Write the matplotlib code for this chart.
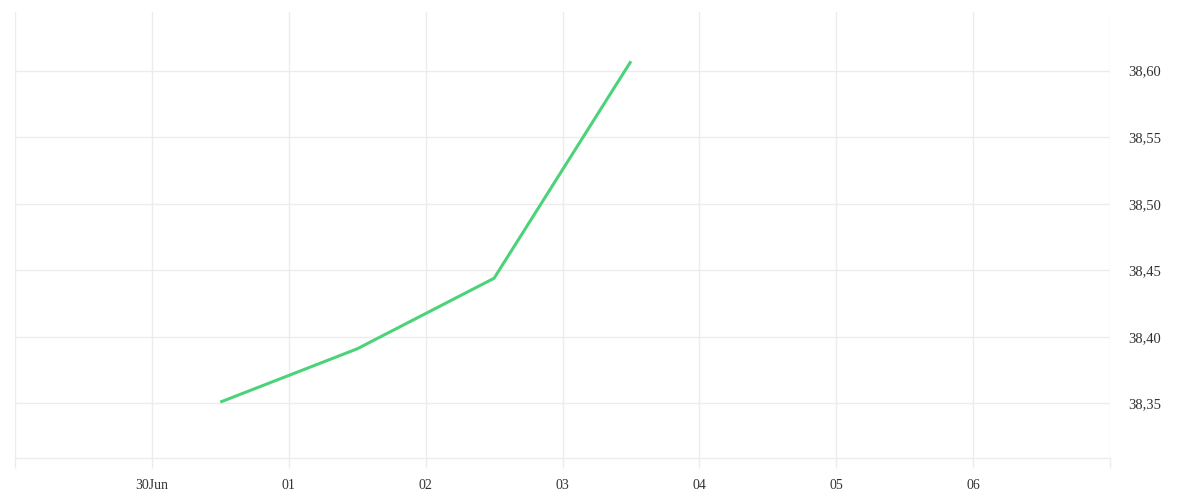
import matplotlib
matplotlib.use("Agg")
import matplotlib.pyplot as plt
import matplotlib.dates as mdates
from matplotlib.ticker import FixedLocator, FuncFormatter
from datetime import datetime, timedelta

# data (points at midday)
dates = ["2025-06-30 12:00", "2025-07-01 12:00", "2025-07-02 12:00", "2025-07-03 12:00"]
values = [38.351, 38.391, 38.444, 38.607]

x_start = "2025-06-29"
x_end = "2025-07-07"
y_ticks = [38.35, 38.40, 38.45, 38.50, 38.55, 38.60]
y_min, y_max = 38.309, 38.644

grid_col = "#ececec"
line_col = "#4cd37a"
text_col = "#333333"

plt.rcParams["font.family"] = ["Liberation Serif", "DejaVu Serif"]

x = [datetime.strptime(d, "%Y-%m-%d %H:%M") for d in dates]
x0 = datetime.strptime(x_start, "%Y-%m-%d")
x1 = datetime.strptime(x_end, "%Y-%m-%d")

fig = plt.figure(figsize=(12, 5), dpi=100)
ax = fig.add_axes([15 / 1200, 42 / 500, 1095 / 1200, 446 / 500])

ax.plot(x, values, color=line_col, linewidth=2.2, solid_capstyle="butt")

ax.set_xlim(x0, x1)
ax.set_ylim(y_min, y_max)

# daily ticks / grid, labels only for the inner days
day_ticks = [x0 + timedelta(days=i) for i in range((x1 - x0).days + 1)]
ax.xaxis.set_major_locator(FixedLocator(mdates.date2num(day_ticks)))


def day_label(v, pos):
    d = mdates.num2date(v).replace(tzinfo=None)
    if d <= x0 or d >= x1:
        return ""
    if d.day == 30 and d.month == 6:
        return "30Jun"
    return d.strftime("%d")


ax.xaxis.set_major_formatter(FuncFormatter(day_label))

ax.set_yticks(y_ticks)
ax.yaxis.set_major_formatter(FuncFormatter(lambda v, p: f"{v:.2f}".replace(".", ",")))
ax.yaxis.tick_right()

ax.grid(True, color=grid_col, linewidth=1)
ax.set_axisbelow(True)

for side in ["top", "left", "right"]:
    ax.spines[side].set_visible(False)
ax.spines["bottom"].set_color(grid_col)
ax.spines["bottom"].set_linewidth(1)

ax.tick_params(axis="x", length=7, width=1, color=grid_col, pad=8,
               labelsize=10, labelcolor=text_col)
ax.tick_params(axis="y", length=0, pad=13, labelsize=10.5, labelcolor=text_col)

fig.savefig("out.png", dpi=100, facecolor="white")
